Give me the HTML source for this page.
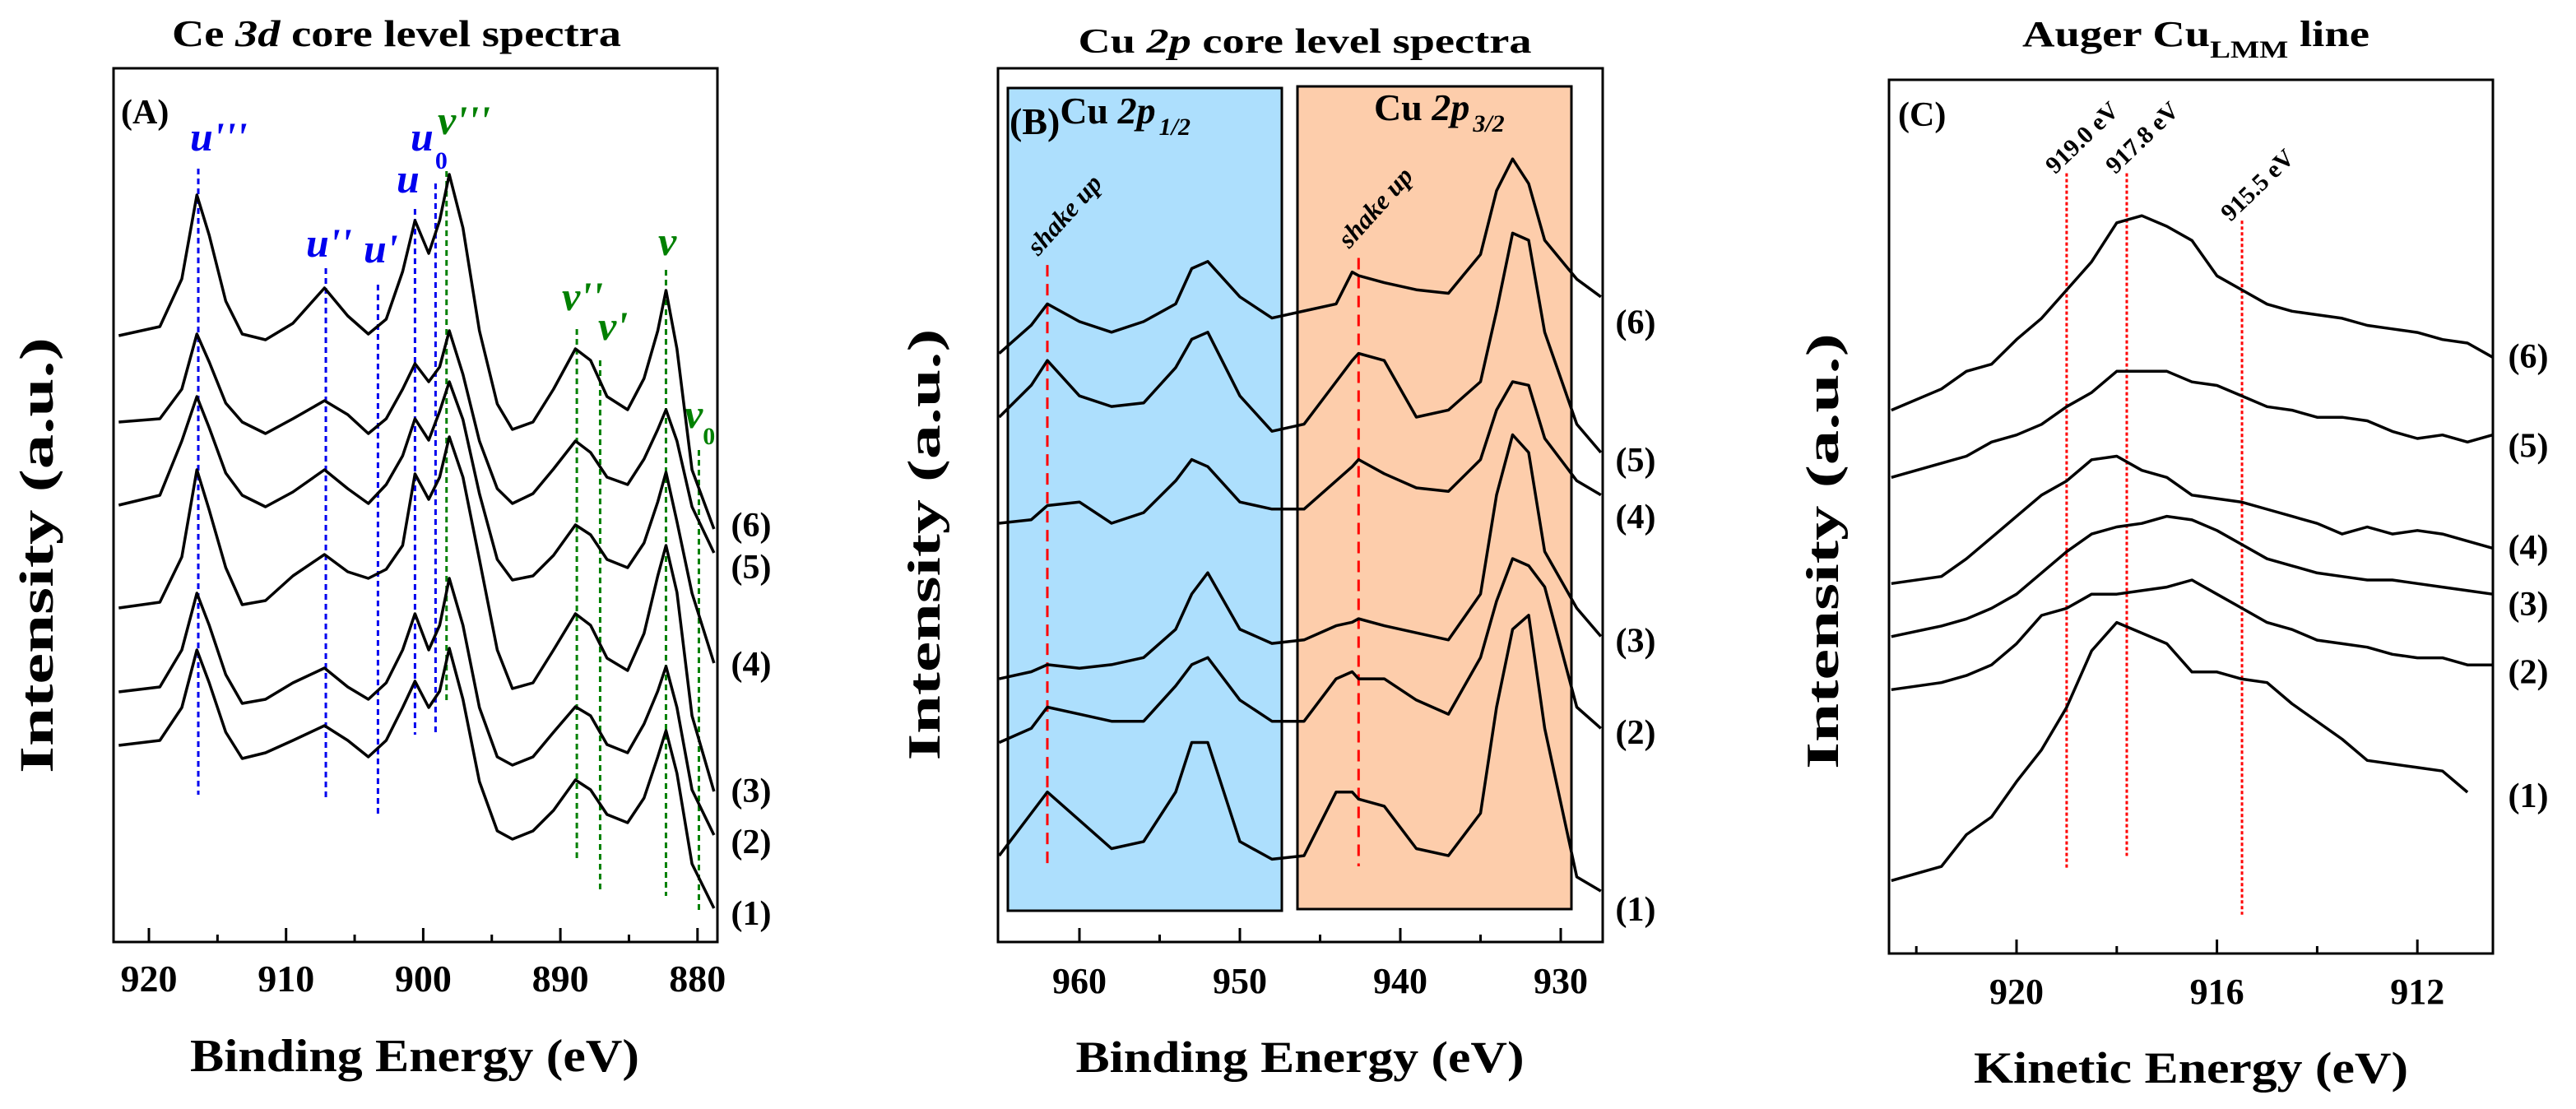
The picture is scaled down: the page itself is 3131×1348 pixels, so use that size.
<!DOCTYPE html>
<html><head><meta charset="utf-8"><style>
html,body{margin:0;padding:0;background:#fff}
svg{display:block}
text{font-family:"Liberation Serif","DejaVu Serif",serif;font-weight:bold;fill:#000}
</style></head><body>
<svg id="fig" xmlns="http://www.w3.org/2000/svg" width="3131" height="1348" viewBox="0 0 3131 1348">
<g>
<text x="482" y="56" font-size="46" text-anchor="middle" textLength="546" lengthAdjust="spacingAndGlyphs">Ce <tspan font-style="italic">3d</tspan> core level spectra</text>
<rect x="138" y="83" width="734" height="1062" fill="none" stroke="#000" stroke-width="3"/>
<text x="147" y="150" font-size="42">(A)</text>
<text x="504" y="1302" font-size="56" text-anchor="middle" textLength="546" lengthAdjust="spacingAndGlyphs">Binding Energy (eV)</text>
<text transform="translate(64,675) rotate(-90)" font-size="58" text-anchor="middle" textLength="530" lengthAdjust="spacingAndGlyphs">Intensity (a.u.)</text>
<g font-style="italic" font-size="50">
<text x="231" y="183" style="fill:#0000ee">u'''</text>
<text x="372" y="312" style="fill:#0000ee">u''</text>
<text x="442" y="319" style="fill:#0000ee">u'</text>
<text x="482" y="234" style="fill:#0000ee">u</text>
<text x="499" y="183" style="fill:#0000ee">u<tspan font-style="normal" font-size="30" dx="2" dy="22">0</tspan></text>
<text x="532" y="163" style="fill:#008000">v'''</text>
<text x="683" y="377" style="fill:#008000">v''</text>
<text x="727" y="413" style="fill:#008000">v'</text>
<text x="800" y="310" style="fill:#008000">v</text>
<text x="832" y="520" style="fill:#008000">v<tspan font-style="normal" font-size="30" dx="0" dy="20">0</tspan></text>
</g>
</g>
<g>
<text x="1586" y="64" font-size="42" text-anchor="middle" textLength="551" lengthAdjust="spacingAndGlyphs">Cu <tspan font-style="italic">2p</tspan> core level spectra</text>
<rect x="1225" y="107" width="333" height="1000" fill="#addffd" stroke="#000" stroke-width="3"/>
<rect x="1577" y="105" width="333" height="1000" fill="#fdcdab" stroke="#000" stroke-width="3"/>
<rect x="1213" y="83" width="735" height="1062" fill="none" stroke="#000" stroke-width="3"/>
<text x="1227" y="163" font-size="46">(B)<tspan dy="-13">Cu </tspan><tspan font-style="italic">2p</tspan><tspan font-style="italic" font-size="30" dx="4" dy="14">1/2</tspan></text>
<text x="1670" y="146" font-size="46">Cu <tspan font-style="italic">2p</tspan><tspan font-style="italic" font-size="30" dx="4" dy="14">3/2</tspan></text>
<text transform="translate(1262,312) rotate(-48)" font-size="32" font-style="italic">shake up</text>
<text transform="translate(1640,303) rotate(-48)" font-size="32" font-style="italic">shake up</text>
<text x="1580" y="1303" font-size="54" text-anchor="middle" textLength="545" lengthAdjust="spacingAndGlyphs">Binding Energy (eV)</text>
<text transform="translate(1142,662) rotate(-90)" font-size="56" text-anchor="middle" textLength="525" lengthAdjust="spacingAndGlyphs">Intensity (a.u.)</text>
</g>
<g>
<text x="2458" y="56" font-size="44" textLength="422" lengthAdjust="spacingAndGlyphs">Auger Cu<tspan font-size="30" dy="14">LMM</tspan><tspan dy="-14"> line</tspan></text>
<rect x="2296" y="97" width="734" height="1062" fill="none" stroke="#000" stroke-width="3"/>
<text x="2307" y="153" font-size="42">(C)</text>
<text x="2663" y="1316" font-size="54" text-anchor="middle" textLength="528" lengthAdjust="spacingAndGlyphs">Kinetic Energy (eV)</text>
<text transform="translate(2234,670) rotate(-90)" font-size="56" text-anchor="middle" textLength="530" lengthAdjust="spacingAndGlyphs">Intensity (a.u.)</text>
</g>
<g id="dyn"></g>
</svg>
<script>
const energyA = [922.2,919.2,917.6,916.5,915.6,914.4,913.2,911.5,909.5,907.2,905.5,904.0,902.7,901.5,900.6,899.6,898.8,898.1,897.1,895.9,894.6,893.5,892.0,890.5,888.9,887.8,886.6,885.1,883.9,882.9,882.3,881.5,880.4,878.8];
const a6 = [737,748,806,908,859,779,739,732,752,795,761,739,757,815,877,837,877,933,868,743,654,623,632,672,721,707,663,647,685,743,792,721,574,502];
const a5 = [632,636,672,739,705,655,632,618,636,658,641,618,636,672,703,681,699,743,690,609,551,533,545,575,609,595,565,556,587,623,647,609,529,473];
const a4 = [531,543,609,663,625,570,543,529,547,574,551,533,556,591,636,610,645,681,635,545,465,440,445,470,507,495,465,455,485,535,571,511,424,339];
const a3 = [406,413,468,574,525,455,410,415,445,471,450,442,453,482,569,538,565,614,565,465,355,308,315,355,399,385,345,330,375,445,482,425,275,183];
const a2 = [304,310,355,424,385,325,290,295,315,333,310,295,315,355,399,355,385,442,385,285,225,215,225,255,286,275,240,230,265,305,335,285,185,130];
const a1 = [239,245,285,355,315,255,223,230,245,263,245,225,245,285,317,285,305,357,295,195,135,125,135,160,197,185,155,145,175,225,257,205,95,41];
const markerEnergyA = [916.4,907.1,903.3,900.6,899.1,898.3,888.8,887.1,882.3,879.9];
const markerTopA = [940,819,799,891,922,937,745,707,817,598];
const markerBottomA = [179,172,152,252,250,292,99,61,56,39];
const ticksA = [920,910,900,890,880];
const minorTicksA = [915,905,895,885];
const curveLabelsA = ["(6)","(5)","(4)","(3)","(2)","(1)"];
const curveLabelValA = [493,442,324,170,108,21];

const energyB = [965,963,962,960,958,956,954,953,952,950,948,946,944,943,942.6,941,939,937,935,934,933,932,931,929,927.5];
const b6 = [832,872,902,877,862,877,902,952,962,912,882,892,902,947,942,932,922,917,972,1062,1107,1072,992,937,912];
const b5 = [742,787,822,772,757,762,812,852,862,772,722,732,792,822,832,822,742,752,792,892,1002,992,862,732,692];
const b4 = [592,597,617,622,592,607,652,682,672,622,612,612,652,672,682,662,642,637,682,752,792,787,712,652,632];
const b3 = [372,382,392,387,392,402,442,492,522,442,422,427,447,452,457,447,437,427,492,632,717,692,552,472,432];
const b2 = [282,302,332,322,312,312,362,392,402,342,312,312,372,382,372,372,342,322,402,482,542,532,502,332,302];
const b1 = [122,182,212,172,132,142,212,282,282,142,117,122,212,212,202,192,132,122,182,332,442,462,302,92,72];
const markerEnergyB = [962.0,942.6];
const markerTopB = [957,967];
const markerBottomB = [102,107];
const ticksB = [960,950,940,930];
const minorTicksB = [955,945,935];
const curveLabelValB = [860,665,585,410,280,30];

const energyC = [922.5,921.5,921,920.5,920,919.5,919,918.5,918,917.5,917,916.5,916,915.5,915,914.5,914,913.5,913,912.5,912,911.5,911,910.5];
const c6 = [768,798,823,833,868,898,938,978,1033,1043,1028,1008,958,938,918,908,903,898,888,883,878,868,863,843];
const c5 = [673,693,703,723,733,748,773,793,823,823,823,808,803,788,773,768,758,758,753,738,728,733,723,733];
const c4 = [523,533,558,588,618,648,668,698,703,683,673,648,643,638,628,618,608,593,603,593,598,593,583,573];
const c3 = [448,463,473,488,508,538,568,593,603,608,618,613,598,578,558,548,538,533,528,528,523,518,513,508];
const c2 = [373,383,393,408,438,478,488,508,508,513,518,528,508,488,468,458,443,438,433,423,418,418,408,408];
const c1 = [103,123,168,193,243,288,348,428,468,453,438,398,398,388,383,353,328,303,273,268,263,258,228];
const markerEnergyC = [919.0,917.8,915.5];
const markerTopC = [1103,1103,1036];
const markerBottomC = [120,138,55];
const markerTextC = ["919.0 eV","917.8 eV","915.5 eV"];
const ticksC = [920,916,912];
const minorTicksC = [922,918,914];
const curveLabelValC = [828,702,558,478,382,207];

const xA = e => 181 + (920 - e) * 16.67;
const yA = v => 1145 - v;
const xB = e => 1312 + (960 - e) * 19.5;
const yB = v => 1145 - v / 1.163;
const xC = e => 2451 + (920 - e) * 60.9;
const yC = v => 1159 - v / 1.163;

const NS = "http://www.w3.org/2000/svg";
const dyn = document.getElementById("dyn");
function mk(tag, parent){ const el = document.createElementNS(NS, tag); parent.appendChild(el); return el; }

function curve(energies, vals, xs, ys, name){
  let d = "";
  for (let i = 0; i < vals.length; i++) d += (i ? "L" : "M") + xs(energies[i]).toFixed(1) + "," + ys(vals[i]).toFixed(1);
  const p = mk("path", dyn);
  
  
  p.setAttribute("d", d);
  p.setAttribute("fill", "none");
  p.setAttribute("stroke", "#000");
  p.setAttribute("stroke-width", "3.5");
  p.setAttribute("stroke-linejoin", "round");
}
function marker(e, top, bot, xs, ys, color, dash, name){
  const l = mk("line", dyn);
  
  
  l.setAttribute("x1", xs(e)); l.setAttribute("x2", xs(e));
  l.setAttribute("y1", ys(top)); l.setAttribute("y2", ys(bot));
  l.setAttribute("stroke", color); l.setAttribute("stroke-width", "3");
  l.setAttribute("stroke-dasharray", dash);
}
function ticks(major, minor, xs, bottom, labY, fs, name){
  major.forEach(t => {
    const l = mk("line", dyn);
    
    
    l.setAttribute("x1", xs(t)); l.setAttribute("x2", xs(t));
    l.setAttribute("y1", bottom); l.setAttribute("y2", bottom - 17);
    l.setAttribute("stroke", "#000"); l.setAttribute("stroke-width", "3");
    const tx = mk("text", dyn);
    
    
    tx.setAttribute("x", xs(t)); tx.setAttribute("y", labY);
    tx.setAttribute("text-anchor", "middle"); tx.setAttribute("font-size", fs);
    tx.textContent = String(t);
  });
  minor.forEach(t => {
    const l = mk("line", dyn);
    
    
    l.setAttribute("x1", xs(t)); l.setAttribute("x2", xs(t));
    l.setAttribute("y1", bottom); l.setAttribute("y2", bottom - 9);
    l.setAttribute("stroke", "#000"); l.setAttribute("stroke-width", "3");
  });
}
function labels(vals, x, ys, name){
  vals.forEach((v, i) => {
    const tx = mk("text", dyn);
    
    
    tx.setAttribute("x", x); tx.setAttribute("y", ys(v));
    tx.setAttribute("text-anchor", "middle"); tx.setAttribute("font-size", "42");
    tx.textContent = curveLabelsA[i];
  });
}

markerEnergyA.forEach((e, i) => marker(e, markerTopA[i], markerBottomA[i], xA, yA, i < 5 ? "#0000ee" : "#008000", "7,5", "ce3d-peak-marker"));
[a6,a5,a4,a3,a2,a1].forEach((s, i) => curve(energyA, s, xA, yA, "ce3d-spectrum-" + (6 - i)));
ticks(ticksA, minorTicksA, xA, 1145, 1205, 46, "panel-a");
labels(curveLabelValA, 913, yA, "panel-a");

markerEnergyB.forEach((e, i) => marker(e, markerTopB[i], markerBottomB[i], xB, yB, "#ff0000", "14,9", "shake-up-marker"));
[b6,b5,b4,b3,b2,b1].forEach((s, i) => curve(energyB, s, xB, yB, "cu2p-spectrum-" + (6 - i)));
ticks(ticksB, minorTicksB, xB, 1145, 1207, 44, "panel-b");
labels(curveLabelValB, 1988, yB, "panel-b");

markerEnergyC.forEach((e, i) => {
  marker(e, markerTopC[i], markerBottomC[i], xC, yC, "#ff0000", "4,3", "auger-energy-marker");
  const tx = mk("text", dyn);
  
  
  tx.setAttribute("transform", "translate(" + (xC(e) - 14) + "," + (yC(markerTopC[i]) + 2) + ") rotate(-44)");
  tx.setAttribute("font-size", "30");
  tx.textContent = markerTextC[i];
});
[c6,c5,c4,c3,c2,c1].forEach((s, i) => curve(energyC, s, xC, yC, "auger-spectrum-" + (6 - i)));
ticks(ticksC, minorTicksC, xC, 1159, 1220, 44, "panel-c");
labels(curveLabelValC, 3073, yC, "panel-c");
</script>
</body></html>
